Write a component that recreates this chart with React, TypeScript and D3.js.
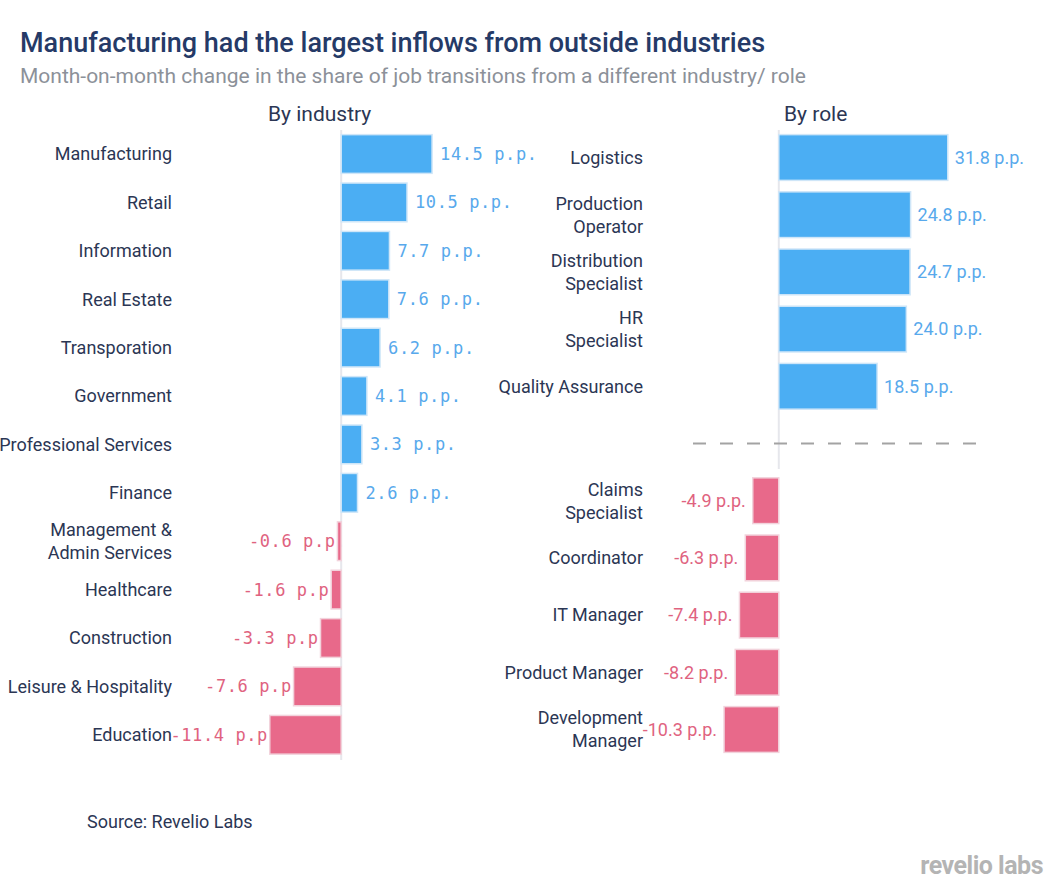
import React from "react";
import * as d3 from "d3";

const industries = [
  "Manufacturing", "Retail", "Information", "Real Estate", "Transporation", "Government",
  "Professional Services", "Finance", "Management &\nAdmin Services", "Healthcare",
  "Construction", "Leisure & Hospitality", "Education",
];
const industryValues = [14.5, 10.5, 7.7, 7.6, 6.2, 4.1, 3.3, 2.6, -0.6, -1.6, -3.3, -7.6, -11.4];

const roles = [
  "Logistics", "Production\nOperator", "Distribution\nSpecialist", "HR\nSpecialist", "Quality Assurance",
  "", "Claims\nSpecialist", "Coordinator", "IT Manager", "Product Manager", "Development\nManager",
];
const roleValues = [31.8, 24.8, 24.7, 24.0, 18.5, null, -4.9, -6.3, -7.4, -8.2, -10.3];

const TITLE = "Manufacturing had the largest inflows from outside industries";
const SUBTITLE = "Month-on-month change in the share of job transitions from a different industry/ role";

const BLUE = "#4BAEF3";
const PINK = "#E8698A";
const BLUE_TXT = "#58A9EC";
const PINK_TXT = "#E0637F";
const DARK = "#2B3654";
const FONT = "Roboto, 'Noto Sans', sans-serif";
const MONO = "'DejaVu Sans Mono', 'Liberation Mono', monospace";

function fmt(v: number) {
  return `${v.toFixed(1)} p.p.`;
}

function Label({ x, y, text, size }: { x: number; y: number; text: string; size: number }) {
  const lines = text.split("\n");
  const lh = 23;
  const y0 = y - ((lines.length - 1) * lh) / 2;
  return (
    <text x={x} textAnchor="end" fontFamily={FONT} fontSize={size} fill={DARK}>
      {lines.map((l, i) => (
        <tspan key={i} x={x} y={y0 + i * lh} dy="0.35em">{l}</tspan>
      ))}
    </text>
  );
}

export default function App() {
  const W = 1063, H = 895;
  const yL = d3.scaleBand<string>().domain(industries).range([129.8, 759]).paddingInner(0.2).paddingOuter(0.1);
  const xL = d3.scaleLinear().domain([-12, 18]).range([266, 454]);
  const roleKeys = roles.map((r, i) => `${i}`);
  const yR = d3.scaleBand<string>().domain(roleKeys).range([128.9, 758.1]).paddingInner(0.2).paddingOuter(0.1);
  const xR = d3.scaleLinear().domain([-12, 34]).range([715, 959.5]);

  const dividerY = (yR("5") as number) + yR.bandwidth() / 2;

  return (
    <svg width={W} height={H} style={{ position: "absolute", left: 0, top: 0, background: "#fff" }}>
      <text x={20} y={52} fontFamily={FONT} fontWeight={500} fontSize={27} fill="#253A67">{TITLE}</text>
      <text x={20} y={83} fontFamily={FONT} fontSize={21} fill="#8C9199">{SUBTITLE}</text>
      <text x={268} y={121} fontFamily={FONT} fontSize={21} fill={DARK}>By industry</text>
      <text x={784} y={121} fontFamily={FONT} fontSize={21} fill={DARK}>By role</text>

      {/* left panel */}
      <line x1={xL(0)} x2={xL(0)} y1={130} y2={760} stroke="#E6E7EC" strokeWidth={2} />
      {industries.map((c, i) => {
        const v = industryValues[i];
        const y = (yL(c) as number);
        const cy = y + yL.bandwidth() / 2;
        return (
          <g key={c}>
            <Label x={172} y={cy} text={c} size={18} />
            {v >= 0 ? (
              <text x={xL(v) + 8} y={cy} dy="0.35em" fontFamily={MONO} fontSize={17} letterSpacing={0.6} fill={BLUE_TXT}>{fmt(v)}</text>
            ) : (
              <text x={xL(v) + 9} y={cy} dy="0.35em" textAnchor="end" fontFamily={MONO} fontSize={17} letterSpacing={0.6} fill={PINK_TXT}>{fmt(v)}</text>
            )}
            <rect
              x={Math.min(xL(0), xL(v))}
              y={y}
              width={Math.abs(xL(v) - xL(0))}
              height={yL.bandwidth()}
              fill={v >= 0 ? BLUE : PINK}
              stroke={v >= 0 ? "#CFE6F8" : "#F2D3DC"}
              strokeWidth={1.5}
            />
          </g>
        );
      })}

      {/* right panel */}
      <line x1={xR(0)} x2={xR(0)} y1={130} y2={469} stroke="#E6E7EC" strokeWidth={2} />
      <line x1={693} x2={978} y1={dividerY} y2={dividerY} stroke="#A3A3A3" strokeWidth={2} strokeDasharray="13,14" />
      {roles.map((c, i) => {
        const v = roleValues[i];
        if (v === null) return null;
        const key = `${i}`;
        const y = yR(key) as number;
        const cy = y + yR.bandwidth() / 2;
        return (
          <g key={key}>
            <Label x={643} y={cy} text={c} size={18} />
            {v >= 0 ? (
              <text x={xR(v) + 7} y={cy} dy="0.35em" fontFamily={FONT} fontSize={18} fill={BLUE_TXT}>{fmt(v)}</text>
            ) : (
              <text x={xR(v) - 7} y={cy} dy="0.35em" textAnchor="end" fontFamily={FONT} fontSize={18} fill={PINK_TXT}>{fmt(v)}</text>
            )}
            <rect
              x={Math.min(xR(0), xR(v))}
              y={y}
              width={Math.abs(xR(v) - xR(0))}
              height={yR.bandwidth()}
              fill={v >= 0 ? BLUE : PINK}
              stroke={v >= 0 ? "#CFE6F8" : "#F2D3DC"}
              strokeWidth={1.5}
            />
          </g>
        );
      })}

      <text x={87} y={828} fontFamily={FONT} fontSize={18} fill={DARK}>Source: Revelio Labs</text>
      <text x={1043} y={874} textAnchor="end" fontFamily={FONT} fontWeight={700} fontSize={25} letterSpacing={-0.5} fill="#B4B4B4">revelio labs</text>
    </svg>
  );
}
